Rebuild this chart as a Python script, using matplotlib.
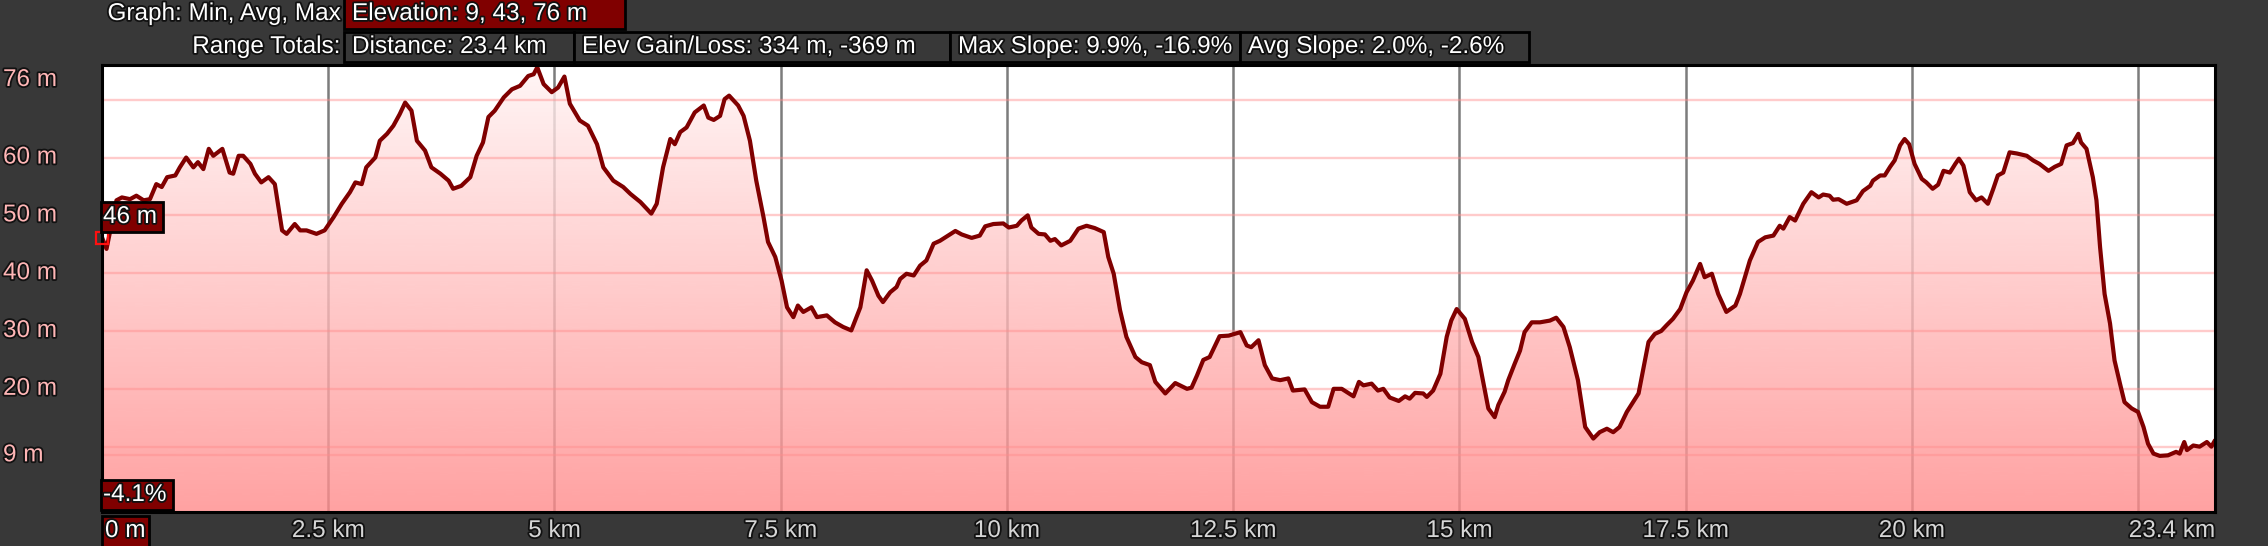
import numpy as np
import matplotlib
matplotlib.use("Agg")
import matplotlib.pyplot as plt
import matplotlib.patheffects as pe
import matplotlib.transforms as mtransforms
from matplotlib.patches import Rectangle

# ---------------- data ----------------
dist_km = [
    0.00, 0.05, 0.16, 0.22, 0.31, 0.38, 0.46, 0.53, 0.60, 0.66,
    0.72, 0.81, 0.86, 0.93, 1.01, 1.06, 1.12, 1.18, 1.23, 1.33,
    1.41, 1.45, 1.51, 1.56, 1.64, 1.69, 1.76, 1.84, 1.91, 1.95,
    1.99, 2.04, 2.13, 2.19, 2.26, 2.37, 2.46, 2.56, 2.65, 2.74,
    2.80, 2.87, 2.92, 3.02, 3.07, 3.15, 3.22, 3.29, 3.35, 3.42,
    3.48, 3.57, 3.64, 3.74, 3.83, 3.88, 3.97, 4.07, 4.14, 4.21,
    4.27, 4.34, 4.44, 4.53, 4.62, 4.71,
    4.77, 4.81, 4.88, 4.97, 5.04, 5.11, 5.17, 5.28, 5.37, 5.47,
    5.54, 5.65, 5.76, 5.84, 5.95, 6.07, 6.13, 6.20, 6.28, 6.33,
    6.39, 6.46, 6.55, 6.65, 6.70, 6.76, 6.83, 6.88, 6.93, 7.03,
    7.09, 7.16, 7.23, 7.31, 7.36, 7.44, 7.51, 7.57, 7.64, 7.69,
    7.75, 7.84, 7.90, 8.01, 8.10, 8.19, 8.28, 8.38, 8.45, 8.51,
    8.58, 8.63, 8.71, 8.78, 8.82, 8.89, 8.97, 9.04, 9.11, 9.19,
    9.26, 9.35,
    9.43, 9.50, 9.61, 9.70, 9.76, 9.85, 9.96, 10.02, 10.11, 10.16,
    10.23, 10.27, 10.35, 10.42, 10.48, 10.53, 10.60, 10.70, 10.79, 10.88,
    10.97, 11.07, 11.12, 11.18, 11.25, 11.32, 11.42, 11.49, 11.58, 11.64,
    11.75, 11.86, 11.99, 12.04, 12.10, 12.17, 12.24, 12.35, 12.45, 12.58,
    12.65, 12.70, 12.78, 12.85, 12.93, 13.02, 13.11, 13.16, 13.29, 13.37,
    13.46, 13.55, 13.61, 13.70, 13.83, 13.89, 13.94,
    14.03, 14.10, 14.16, 14.23, 14.33, 14.40, 14.45, 14.51, 14.60, 14.64,
    14.71, 14.79, 14.86, 14.91, 14.97, 15.06, 15.14, 15.21, 15.26, 15.32,
    15.39, 15.43, 15.50, 15.54, 15.61, 15.67, 15.72, 15.80, 15.89, 16.00,
    16.07, 16.15, 16.22, 16.31, 16.39, 16.48, 16.55, 16.63, 16.70, 16.77,
    16.85, 16.98, 17.03, 17.09, 17.16, 17.23, 17.29, 17.36, 17.44, 17.51,
    17.58, 17.66, 17.71, 17.79, 17.86, 17.95, 18.05, 18.10, 18.21, 18.30,
    18.38, 18.47, 18.54, 18.58, 18.65,
    18.71, 18.80, 18.89, 18.97, 19.02, 19.09, 19.13, 19.19, 19.28, 19.39,
    19.46, 19.54, 19.57, 19.65, 19.70, 19.76, 19.81, 19.87, 19.92, 19.97,
    20.03, 20.11, 20.16, 20.23, 20.29, 20.35, 20.42, 20.48, 20.52, 20.57,
    20.64, 20.71, 20.77, 20.84, 20.90, 20.95, 21.01, 21.08, 21.16, 21.27,
    21.34, 21.41, 21.51, 21.58, 21.65, 21.71, 21.78, 21.84, 21.87, 21.93,
    22.00, 22.04, 22.08, 22.13, 22.19, 22.24, 22.30, 22.35, 22.43, 22.50,
    22.56, 22.61, 22.67, 22.74, 22.83, 22.92, 22.96, 23.01, 23.04, 23.11,
    23.18, 23.26, 23.31, 23.35,
]

elev_m = [
    46.2, 44.2, 52.6, 53.1, 52.8, 53.4, 52.6, 52.8, 55.4, 54.9,
    56.6, 56.9, 58.3, 60.0, 58.3, 59.2, 58.0, 61.5, 60.3, 61.5,
    57.4, 57.2, 60.3, 60.3, 58.9, 57.2, 55.7, 56.6, 55.4, 51.4,
    47.4, 46.8, 48.5, 47.4, 47.4, 46.8, 47.4, 49.7, 52.0, 54.0,
    55.7, 55.4, 58.3, 60.0, 62.9, 64.1, 65.5, 67.5, 69.5, 68.1,
    62.9, 61.2, 58.3, 57.2, 56.0, 54.6, 55.1, 56.6, 60.3, 62.6,
    67.0, 68.1, 70.4, 71.8, 72.4, 74.1,
    74.4, 75.6, 72.7, 71.3, 72.1, 74.0, 69.3, 66.4, 65.5, 62.3,
    58.3, 56.0, 54.9, 53.7, 52.3, 50.3, 52.0, 58.3, 63.2, 62.3,
    64.4, 65.2, 67.8, 69.0, 66.9, 66.5, 67.2, 70.1, 70.7, 69.0,
    67.2, 62.9, 56.0, 49.7, 45.4, 42.8, 38.7, 34.1, 32.4, 34.4,
    33.3, 34.1, 32.4, 32.7, 31.5, 30.7, 30.1, 34.1, 40.5, 38.7,
    36.1, 35.0, 36.7, 37.6, 39.0, 39.9, 39.6, 41.3, 42.2, 45.1,
    45.6, 46.5,
    47.3, 46.7, 46.1, 46.5, 48.1, 48.5, 48.6, 47.9, 48.2, 49.1,
    50.0, 47.9, 46.8, 46.7, 45.6, 45.9, 44.8, 45.6, 47.7, 48.2,
    47.8, 47.1, 42.8, 39.9, 33.6, 29.0, 25.5, 24.6, 24.1, 21.2,
    19.2, 21.0, 20.0, 20.2, 22.3, 25.0, 25.5, 29.1, 29.2, 29.8,
    27.5, 27.2, 28.4, 24.1, 21.8, 21.5, 21.8, 19.7, 19.9, 17.7,
    16.9, 16.9, 20.0, 20.0, 18.7, 21.2, 20.6,
    20.9, 19.7, 20.0, 18.5, 17.9, 18.7, 18.3, 19.3, 19.2, 18.6,
    19.7, 22.6, 29.0, 31.8, 33.8, 32.1, 28.1, 25.5, 21.5, 16.6,
    15.1, 17.2, 19.5, 21.5, 24.3, 26.6, 29.8, 31.5, 31.5, 31.8,
    32.3, 30.7, 27.2, 21.5, 13.4, 11.4, 12.5, 13.1, 12.5, 13.4,
    16.0, 19.2, 23.2, 28.1, 29.5, 30.0, 31.0, 32.1, 33.8, 36.7,
    38.7, 41.6, 39.3, 39.9, 36.4, 33.3, 34.4, 36.4, 42.2, 45.4,
    46.2, 46.5, 48.2, 47.7, 49.7,
    49.1, 52.0, 54.0, 53.1, 53.6, 53.4, 52.7, 52.8, 52.0, 52.6,
    54.2, 55.1, 56.0, 56.9, 56.9, 58.4, 59.5, 62.1, 63.2, 62.3,
    58.9, 56.3, 55.7, 54.6, 55.3, 57.7, 57.4, 58.9, 59.8, 58.6,
    54.0, 52.6, 53.1, 52.0, 54.6, 56.9, 57.4, 60.9, 60.7, 60.3,
    59.5, 58.9, 57.7, 58.4, 58.9, 62.1, 62.5, 64.1, 62.6, 61.5,
    56.6, 52.6, 44.5, 36.4, 31.3, 24.9, 20.9, 17.7, 16.6, 16.0,
    13.4, 10.5, 8.8, 8.4, 8.5, 9.1, 8.8, 10.8, 9.4, 10.2,
    10.0, 10.8, 10.0, 11.1,
]

total_km = 23.35
y_bottom, y_top = -1.3, 76.0
hgrid_values = [8.5, 10, 20, 30, 40, 50, 60, 70]
ytick_values = [8.5, 20, 30, 40, 50, 60, 76]
ytick_labels = ["9 m", "20 m", "30 m", "40 m", "50 m", "60 m", "76 m"]
xgrid_values = [2.5, 5, 7.5, 10, 12.5, 15, 17.5, 20, 22.5]
xtick_values = [2.5, 5, 7.5, 10, 12.5, 15, 17.5, 20]
xtick_labels = ["2.5 km", "5 km", "7.5 km", "10 km", "12.5 km", "15 km", "17.5 km", "20 km"]
end_label = "23.4 km"
start_label = "0 m"
cursor_elev = 46
cursor_label = "46 m"
slope_label = "-4.1%"
header_row1_title = "Graph: Min, Avg, Max"
header_row1_box = "Elevation: 9, 43, 76 m"
header_row2_title = "Range Totals:"
header_row2_boxes = ["Distance: 23.4 km", "Elev Gain/Loss: 334 m, -369 m",
                     "Max Slope: 9.9%, -16.9%", "Avg Slope: 2.0%, -2.6%"]

# ---------------- figure ----------------
W, H = 2268, 546
BG = "#383838"
DARKRED = "#800000"
FS = 17.5
plt.rcParams["font.family"] = ["Liberation Sans", "DejaVu Sans"]
outline = [pe.withStroke(linewidth=2.6, foreground="#111111")]

fig = plt.figure(figsize=(W / 100, H / 100), dpi=100, facecolor=BG)

L, R, T, B = 102, 2215, 65, 512
ax = fig.add_axes([L / W, 1 - B / H, (R - L) / W, (B - T) / H])
ax.set_xlim(0, total_km)
ax.set_ylim(y_bottom, y_top)
ax.set_facecolor("white")
ax.set_xticks([])
ax.set_yticks([])
for s in ax.spines.values():
    s.set_color("black")
    s.set_linewidth(2.2)
    s.set_zorder(10)

x = np.array(dist_km)
y = np.array(elev_m)

for xv in xgrid_values:
    ax.axvline(xv, color="#7c7c7c", lw=1.8, zorder=1)

# gradient fill clipped under the profile
alpha = 0.8
top_t = np.array([1.0, 0.965, 0.965])
bot_t = np.array([1.0, 0.635, 0.635])
ncol = 256
t = np.linspace(0, 1, ncol)[:, None]  # 0 bottom -> 1 top
target = bot_t[None, :] * (1 - t) + top_t[None, :] * t
col = (target - (1 - alpha)) / alpha
rgba = np.concatenate([col, np.full((ncol, 1), alpha)], axis=1)[:, None, :]
poly = ax.fill_between(x, y, y_bottom, facecolor="none", edgecolor="none")
im = ax.imshow(rgba, extent=[0, total_km, y_bottom, y_top], origin="lower",
               aspect="auto", zorder=2, interpolation="bilinear")
im.set_clip_path(poly.get_paths()[0], transform=ax.transData)

for hv in hgrid_values:
    ax.axhline(hv, color=(1.0, 0.55, 0.55, 0.45), lw=1.7, zorder=3)

ax.plot(x, y, color=DARKRED, lw=3.0, zorder=5, solid_joinstyle="round",
        solid_capstyle="round")

# cursor marker
ax.plot([0], [cursor_elev], marker="s", ms=8, mfc="none", mec="#ff1010",
        mew=1.6, zorder=11, clip_on=False)

# ---------------- helpers ----------------
def px_box(x0, y0, x1, y1, face, lw=2.0):
    r = Rectangle((x0 / W, 1 - y1 / H), (x1 - x0) / W, (y1 - y0) / H,
                  transform=fig.transFigure, facecolor=face, edgecolor="black",
                  lw=lw, zorder=20)
    fig.add_artist(r)

def px_text(xp, yp, s, ha="left", color="white", size=FS):
    fig.text(xp / W, 1 - yp / H, s, ha=ha, va="center", color=color,
             fontsize=size, path_effects=outline, zorder=21)

# y labels
ylab_tr = mtransforms.blended_transform_factory(fig.transFigure, ax.transData)
for v, lab in zip(ytick_values, ytick_labels):
    if v >= y_top:
        fig.text(3 / W, 1 - 80 / H, lab, ha="left", va="center", color="#ffb6b6",
                 fontsize=FS, path_effects=outline)
    else:
        fig.text(3 / W, v, lab, ha="left", va="center", color="#ffb6b6",
                 fontsize=FS, path_effects=outline, transform=ylab_tr)

# x labels
xlab_tr = mtransforms.blended_transform_factory(ax.transData, fig.transFigure)
for v, lab in zip(xtick_values, xtick_labels):
    fig.text(v, 1 - 531 / H, lab, ha="center", va="center", color="#d6d6d6",
             fontsize=FS, path_effects=outline, transform=xlab_tr)
fig.text(total_km, 1 - 531 / H, end_label, ha="right", va="center",
         color="#d6d6d6", fontsize=FS, path_effects=outline, transform=xlab_tr)

# start box "0 m"
px_box(102, 516, 149, 547, DARKRED)
px_text(105, 531, start_label)
# slope box
px_box(101, 480, 173, 510, DARKRED)
px_text(103, 495, slope_label)
# cursor elevation box
px_box(101, 202, 163, 232, DARKRED)
px_text(103, 217, cursor_label)

# header
px_text(340, 14, header_row1_title, ha="right")
px_box(344, -2, 625, 29, DARKRED)
px_text(352, 14, header_row1_box)

px_text(340, 47, header_row2_title, ha="right")
edges = [344, 574, 950, 1240, 1529]
for i, lab in enumerate(header_row2_boxes):
    px_box(edges[i], 32, edges[i + 1], 62, BG)
    px_text(edges[i] + 8, 47, lab)

fig.savefig("out.png", dpi=100, facecolor=BG)
